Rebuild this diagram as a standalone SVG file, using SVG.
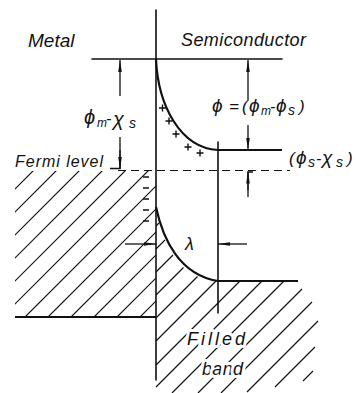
<svg xmlns="http://www.w3.org/2000/svg" width="358" height="393" viewBox="0 0 358 393">
<style>
.ln{fill:none;stroke:#111;stroke-width:1.6;stroke-linecap:round}
.bold{fill:none;stroke:#111;stroke-width:2.2}
.hatch{fill:none;stroke:#111;stroke-width:1.2}
.dash{fill:none;stroke:#111;stroke-width:1.2;stroke-dasharray:8 5}
.dim{fill:none;stroke:#111;stroke-width:1.3}
.t{font-family:"Liberation Sans","DejaVu Sans",sans-serif;font-style:italic;fill:#111}
.halo{stroke:#fff;stroke-width:6;paint-order:stroke;stroke-linejoin:round}
.chg{fill:none;stroke:#111;stroke-width:1.4}
</style>
<defs>
<marker id="ah" markerUnits="userSpaceOnUse" markerWidth="12" markerHeight="5" refX="12" refY="2.2" orient="auto">
<path d="M0,0.4 L12,2.2 L0,4 z" fill="#111"/>
</marker>
<clipPath id="clipMetal"><rect x="15" y="171" width="141" height="146"/></clipPath>
</defs>

<g id="metal-hatch" clip-path="url(#clipMetal)">
<path class="hatch" d="M-126,330 L44,160 M-103,330 L67,160 M-80,330 L90,160 M-57,330 L113,160 M-34,330 L136,160 M-11,330 L159,160 M12,330 L182,160 M35,330 L205,160 M58,330 L228,160 M81,330 L251,160 M104,330 L274,160 M127,330 L297,160"/>
</g>
<g id="semi-hatch">
<path class="hatch" d="M156,226 L159,223 M156,249 L165,240 M156,272 L173,255 M156,295 L183.5,267.5 M156,318 L197.5,276.5 M156,341 L216,281 M156,365 L240,281 M156,387 L262,281 M172,393 L284,281 M198,393 L302,289 M221,393 L312,302 M247,392 L318,321 M275,387 L315,347 M303,381 L313,371"/>
</g>

<g id="interface">
<line class="ln" x1="156" y1="10" x2="156" y2="380"/>
</g>
<g id="bands">
<line class="ln" x1="92" y1="59" x2="282" y2="59"/>
<path class="bold" d="M156,59 C158,105 180,148 218,150 L282,150"/>
<path class="bold" d="M156,207 C163,240 180,275 218,281 L298,281"/>
<line class="bold" x1="15" y1="317" x2="156" y2="317"/>
<line class="dash" x1="118" y1="170.5" x2="290" y2="170.5"/>
<line class="ln" x1="218" y1="142" x2="218" y2="313"/>
</g>

<g id="charges">
<path class="chg" d="M159,108 h7 M162.5,104.5 v7 M165.5,121 h7 M169,117.5 v7 M172.5,134 h7 M176,130.5 v7 M184.5,147 h7 M188,143.5 v7 M196.5,153 h7 M200,149.5 v7"/>
<path class="chg" d="M143,177 h6 M143,188 h6 M143,199 h6 M143,210 h6 M143,221 h6"/>
</g>

<g id="connectors">
<line class="dim" x1="120" y1="96" x2="120" y2="60" marker-end="url(#ah)"/>
<path class="dim" d="M120,137 L120,168.5 L110,168.5"/>
<line class="dim" x1="120" y1="150" x2="120" y2="169" marker-end="url(#ah)"/>
<line class="dim" x1="248" y1="100" x2="248" y2="60" marker-end="url(#ah)"/>
<line class="dim" x1="248" y1="125" x2="248" y2="150" marker-end="url(#ah)"/>
<path class="dim" d="M253,172 L248,172 L248,197"/>
<line class="dim" x1="248" y1="190" x2="248" y2="171.5" marker-end="url(#ah)"/>
<line class="dim" x1="125" y1="244" x2="156" y2="244" marker-end="url(#ah)"/>
<line class="dim" x1="247" y1="244" x2="218" y2="244" marker-end="url(#ah)"/>
</g>

<g id="labels">
<text class="t" x="28" y="47" font-size="19">Metal</text>
<text class="t" x="181" y="46" font-size="18" textLength="125" lengthAdjust="spacing">Semiconductor</text>
<text class="t" x="15" y="167" font-size="16" textLength="88" lengthAdjust="spacing">Fermi level</text>
<text class="t" font-size="20" y="124"><tspan x="84">ϕ</tspan><tspan x="97" y="127" font-size="12">m</tspan><tspan x="106" y="124" font-size="16">-</tspan><tspan x="113" y="126">χ</tspan><tspan x="129" y="128" font-size="14">s</tspan></text>
<text class="t" font-size="19" y="112"><tspan x="212">ϕ</tspan><tspan x="229" font-size="17">=</tspan><tspan x="242" font-size="17">(</tspan><tspan x="249">ϕ</tspan><tspan x="261" y="115" font-size="12">m</tspan><tspan x="270" y="112" font-size="16">-</tspan><tspan x="276">ϕ</tspan><tspan x="288" y="115" font-size="14">s</tspan><tspan x="299" y="112" font-size="17">)</tspan></text>
<text class="t" font-size="19" y="164"><tspan x="289" font-size="17">(</tspan><tspan x="296">ϕ</tspan><tspan x="308" y="167" font-size="14">s</tspan><tspan x="316" y="164" font-size="16">-</tspan><tspan x="322">χ</tspan><tspan x="336" y="167" font-size="14">s</tspan><tspan x="347" y="164" font-size="17">)</tspan></text>
<text class="t" x="185" y="250" font-size="18">λ</text>
<text class="t halo" x="187" y="345" font-size="18" textLength="58" lengthAdjust="spacing">Filled</text>
<text class="t halo" x="202" y="375" font-size="18" textLength="41" lengthAdjust="spacing">band</text>
</g>
</svg>
